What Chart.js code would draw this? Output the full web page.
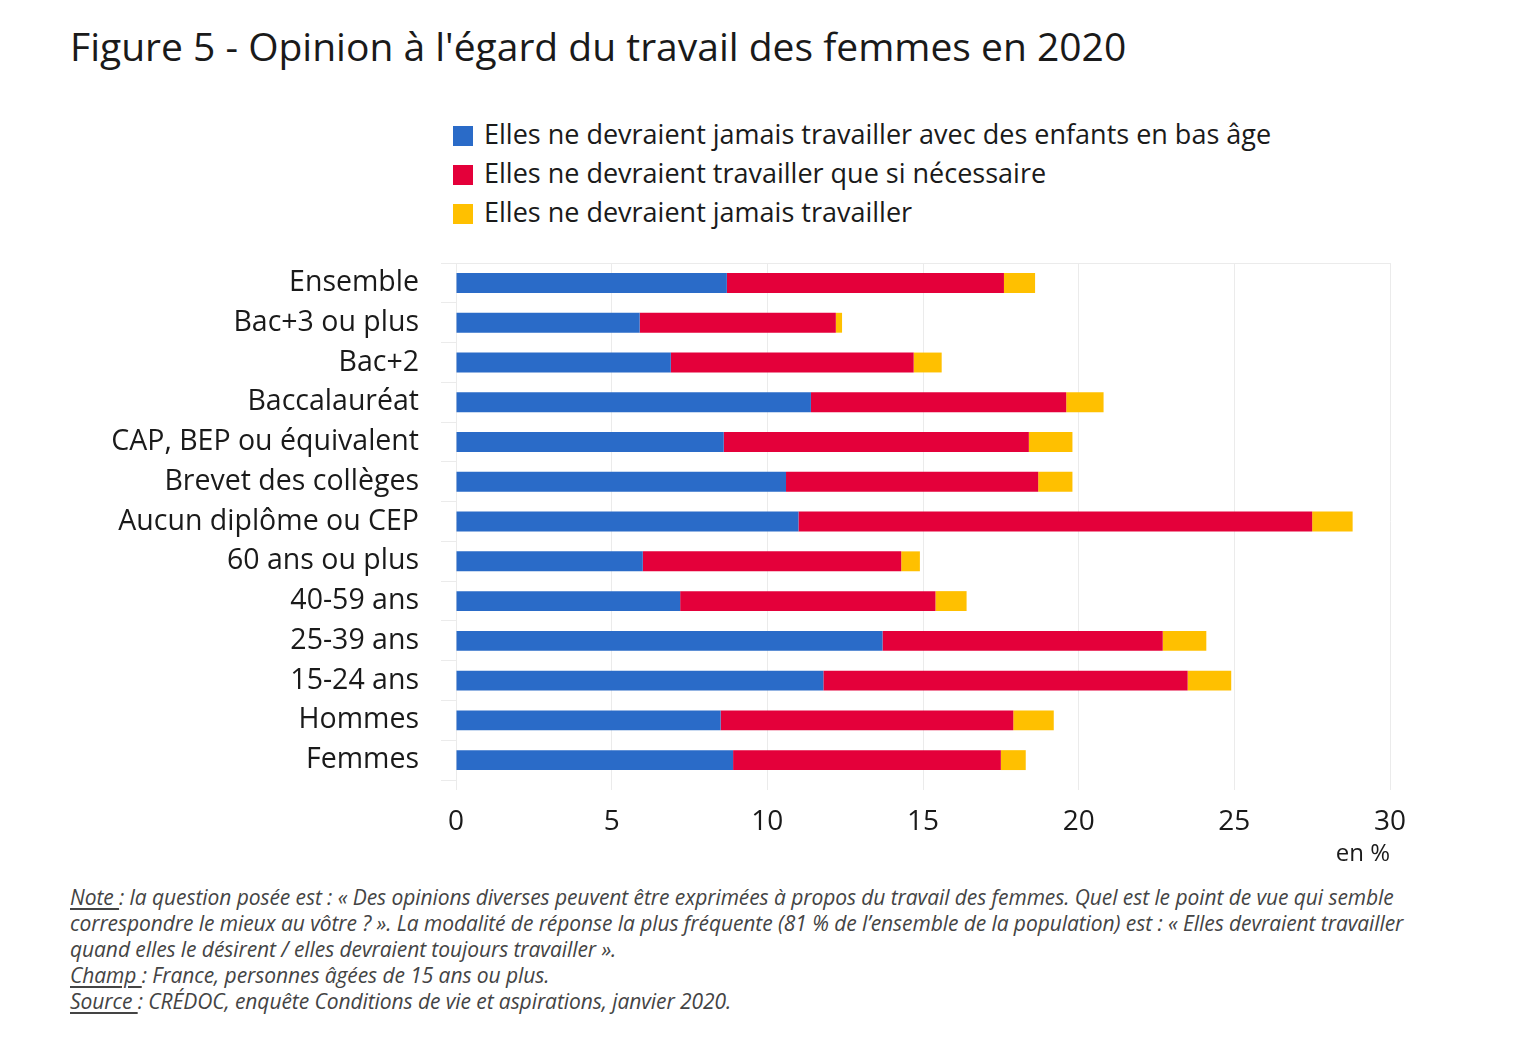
<!DOCTYPE html>
<html>
<head>
<meta charset="utf-8">
<script src="https://cdn.jsdelivr.net/npm/chart.js@4/dist/chart.umd.min.js"></script>
<style>
  body { margin: 0; background: #fff; width: 1536px; height: 1046px; position: relative; font-family: "Open Sans", sans-serif; color: #1a1a1a; overflow: hidden; }
  #title { position: absolute; left: 70px; top: 19px; font-size: 39px; white-space: nowrap; }
  #legend { position: absolute; left: 453px; top: 114px; font-size: 27px; }
  #legend div { height: 39px; line-height: 39px; white-space: nowrap; }
  #legend span.box { display: inline-block; width: 20px; height: 20px; margin-right: 11px; vertical-align: -2px; }
  #wrap { position: absolute; left: 0; top: 224px; width: 1536px; height: 656px; }
  #notes { position: absolute; left: 70px; top: 884px; font-size: 21px; font-style: italic; color: #444; line-height: 26px; letter-spacing: -0.08px; }
  #notes div { white-space: nowrap; }
  #notes u { text-underline-offset: 3px; }
</style>
</head>
<body>
<div id="title">Figure 5 - Opinion à l'égard du travail des femmes en 2020</div>
<div id="legend"></div>
<div id="wrap"><canvas id="chart"></canvas></div>
<div id="notes">
  <div><u>Note </u>: la question posée est : « Des opinions diverses peuvent être exprimées à propos du travail des femmes. Quel est le point de vue qui semble</div>
  <div>correspondre le mieux au vôtre ? ». La modalité de réponse la plus fréquente (81 % de l’ensemble de la population) est : « Elles devraient travailler</div>
  <div>quand elles le désirent / elles devraient toujours travailler ».</div>
  <div><u>Champ </u>: France, personnes âgées de 15 ans ou plus.</div>
  <div><u>Source </u>: CRÉDOC, enquête Conditions de vie et aspirations, janvier 2020.</div>
</div>
<script>
var categories = ['Ensemble', 'Bac+3 ou plus', 'Bac+2', 'Baccalauréat', 'CAP, BEP ou équivalent',
  'Brevet des collèges', 'Aucun diplôme ou CEP', '60 ans ou plus', '40-59 ans', '25-39 ans',
  '15-24 ans', 'Hommes', 'Femmes'];
var seriesNames = ['Elles ne devraient jamais travailler avec des enfants en bas âge',
  'Elles ne devraient travailler que si nécessaire',
  'Elles ne devraient jamais travailler'];
var jamaisEnfants = [8.7, 5.9, 6.9, 11.4, 8.6, 10.6, 11.0, 6.0, 7.2, 13.7, 11.8, 8.5, 8.9];
var siNecessaire = [8.9, 6.3, 7.8, 8.2, 9.8, 8.1, 16.5, 8.3, 8.2, 9.0, 11.7, 9.4, 8.6];
var jamais = [1.0, 0.2, 0.9, 1.2, 1.4, 1.1, 1.3, 0.6, 1.0, 1.4, 1.4, 1.3, 0.8];
var xTicks = [0, 5, 10, 15, 20, 25, 30];
var colors = ['#2a6bc8', '#e4003a', '#ffc000'];

// legend in html, one item per line
var legend = document.getElementById('legend');
seriesNames.forEach(function (name, i) {
    var row = document.createElement('div');
    row.innerHTML = '<span class="box" style="background:' + colors[i] + '"></span>' + name;
    legend.appendChild(row);
});

var gridGray = '#ebebeb';
var ctx = document.getElementById('chart').getContext('2d');
new Chart(ctx, {
    type: 'bar',
    data: {
        labels: categories,
        datasets: [jamaisEnfants, siNecessaire, jamais].map(function (d, i) {
            return {
                label: seriesNames[i],
                data: d,
                backgroundColor: colors[i],
                barPercentage: 0.5,
                categoryPercentage: 1
            };
        })
    },
    options: {
        indexAxis: 'y',
        responsive: true,
        maintainAspectRatio: false,
        animation: false,
        layout: { padding: { top: 7, right: 146, left: 0, bottom: 0 } },
        plugins: { legend: { display: false }, tooltip: { enabled: false } },
        scales: {
            x: {
                stacked: true,
                min: 0,
                max: 30,
                afterBuildTicks: function (scale) {
                    scale.ticks = xTicks.map(function (v) { return { value: v }; });
                },
                afterFit: function (scale) { scale.height = 100; },
                grid: { color: gridGray, tickLength: 10, tickColor: gridGray },
                border: { display: false },
                ticks: { color: '#1a1a1a', font: { family: 'Open Sans', size: 28 }, padding: 15, maxRotation: 0 },
                title: {
                    display: true, text: 'en %', align: 'end', color: '#1a1a1a',
                    font: { family: 'Open Sans', size: 24 }, padding: { top: 0, bottom: 11 }
                }
            },
            y: {
                stacked: true,
                afterFit: function (scale) { scale.width = 456; },
                grid: {
                    offset: true,
                    tickLength: 15,
                    tickColor: gridGray,
                    color: function (c) {
                        return (c.index === 0 || c.index === categories.length) ? gridGray : 'rgba(0,0,0,0)';
                    }
                },
                border: { display: false },
                ticks: { color: '#1a1a1a', font: { family: 'Open Sans', size: 28.5 }, padding: 22 }
            }
        }
    }
});
</script>
</body>
</html>
